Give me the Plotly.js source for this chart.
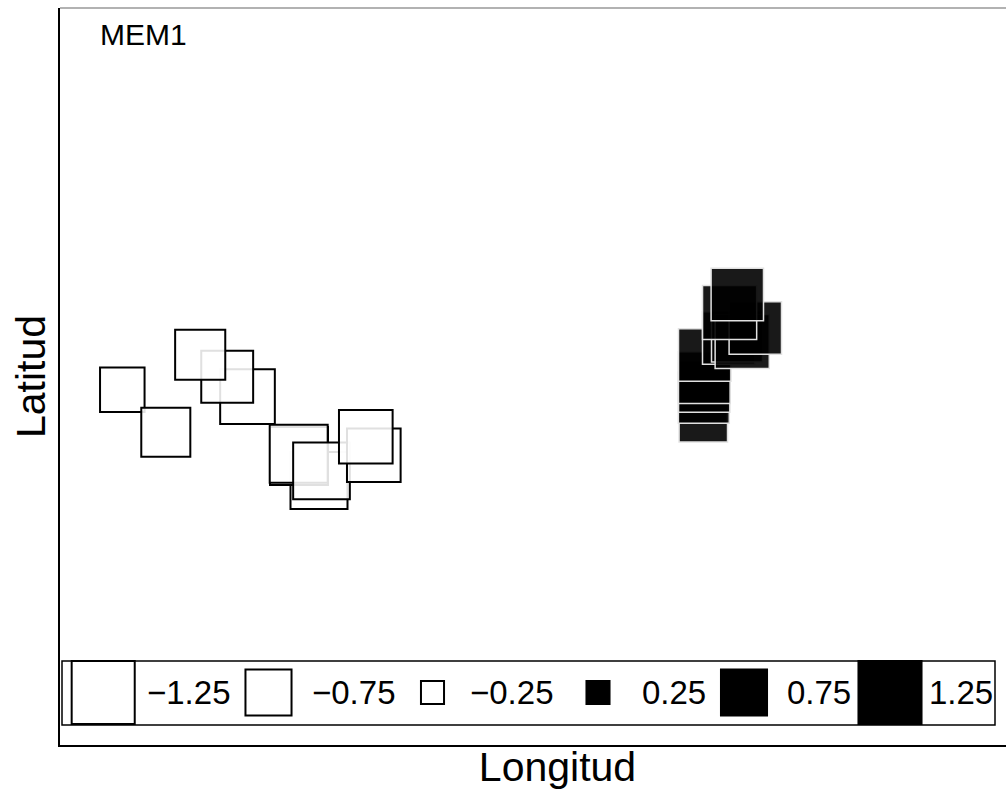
<!DOCTYPE html>
<html>
<head>
<meta charset="utf-8">
<script src="https://cdn.plot.ly/plotly-3.0.1.min.js"></script>
<style>
html,body{margin:0;padding:0;background:#fff;overflow:hidden;}
#chart{width:1060px;height:790px;}
</style>
</head>
<body>
<div id="chart"></div>
<script>
// Site coordinates (arbitrary projected units)
const longitud = [62.3, 105.8, 187.5, 167.2, 140.2, 259.0, 239.0, 238.7, 261.5, 313.8, 305.8,
                  643.3, 643.8, 644.2, 644.3, 644.7, 668.7, 677.0, 682.2, 695.3, 669.6, 677.3];
const latitud  = [355.2, 312.8, 348.3, 368.3, 390.2, 264.5, 289.0, 291.2, 274.2, 289.8, 308.3,
                  327.3, 347.2, 358.5, 367.3, 390.0, 407.0, 408.5, 403.5, 417.0, 432.5, 450.5];
// MEM1 scores
const mem1     = [-0.71, -0.83, -0.99, -0.91, -0.86, -1.06, -1.09, -1.09, -1.05, -0.96, -0.96,
                  0.80, 0.87, 0.88, 0.89, 0.91, 0.91, 0.87, 0.96, 0.91, 0.96, 0.91];
// Legend
const legendValues = [-1.25, -0.75, -0.25, 0.25, 0.75, 1.25];
const legendLabels = ['\u22121.25', '\u22120.75', '\u22120.25', '0.25', '0.75', '1.25'];

// ---- styling helpers ----
function lwOf(v){ return v < 0 ? 2 : 1.5; }
function sizeOf(v){ return 57 * Math.pow(Math.abs(v), 0.593) - lwOf(v); }
function fillOf(v){ return v < 0 ? 'rgba(255,255,255,0.88)' : 'rgba(0,0,0,0.9)'; }
function lineOf(v){ return v < 0 ? 'rgba(0,0,0,1)' : 'rgba(225,225,225,1)'; }

// legend layout (axis units)
const keyX   = [43.2, 208.5, 372.5, 538, 684, 830];
const labelX = [85, 250, 408, 580, 725, 867];
const legY = 52.5;

const FONT = 'Liberation Sans, Arial, sans-serif';

const points = {
  type: 'scatter', mode: 'markers',
  x: longitud, y: latitud,
  marker: {
    symbol: 'square', opacity: 1,
    size: mem1.map(sizeOf),
    color: mem1.map(fillOf),
    line: {color: mem1.map(lineOf), width: mem1.map(lwOf)}
  },
  hoverinfo: 'x+y+text', text: mem1.map(String),
  showlegend: false, cliponaxis: true
};

const keys = {
  type: 'scatter', mode: 'markers',
  x: keyX, y: legendValues.map(() => legY),
  marker: {
    symbol: 'square', opacity: 1,
    size: legendValues.map(sizeOf),
    color: legendValues.map(v => v < 0 ? '#fff' : '#000'),
    line: {color: '#000', width: legendValues.map(lwOf)}
  },
  hoverinfo: 'skip', showlegend: false, cliponaxis: false
};

const annotations = legendLabels.map((t, i) => ({
  x: labelX[i], y: legY, xref: 'x', yref: 'y', text: t, showarrow: false,
  xanchor: 'left', yanchor: 'middle', font: {family: FONT, size: 33, color: '#000'}
}));
annotations.push({
  x: 38, y: 711, xref: 'x', yref: 'y', text: 'MEM1', showarrow: false,
  xanchor: 'left', yanchor: 'middle', font: {family: FONT, size: 30, color: '#000'}
});

const layout = {
  width: 1060, height: 790,
  margin: {l: 60, r: 5, t: 8, b: 45},
  paper_bgcolor: '#fff', plot_bgcolor: '#fff',
  font: {family: FONT, color: '#000'},
  xaxis: {
    range: [0, 995], showgrid: false, zeroline: false, showticklabels: false, ticks: '',
    showline: true, linecolor: '#000', linewidth: 2,
    title: {text: 'Longitud', font: {family: FONT, size: 41, color: '#000'}, standoff: 14}
  },
  yaxis: {
    range: [0, 737], showgrid: false, zeroline: false, showticklabels: false, ticks: '',
    showline: true, linecolor: '#000', linewidth: 2,
    title: {text: 'Latitud', font: {family: FONT, size: 41, color: '#000'}, standoff: 0}
  },
  shapes: [
    {type: 'line', xref: 'paper', yref: 'paper', x0: 0, x1: 1, y0: 1, y1: 1,
     line: {color: '#999', width: 1.5}, layer: 'above'},
    {type: 'rect', xref: 'x', yref: 'y', x0: 2, x1: 935, y0: 20, y1: 84,
     line: {color: '#000', width: 1.5}, fillcolor: 'rgba(255,255,255,1)', layer: 'below'}
  ],
  annotations: annotations
};

Plotly.newPlot('chart', [points, keys], layout, {displayModeBar: false, staticPlot: true});
</script>
</body>
</html>
